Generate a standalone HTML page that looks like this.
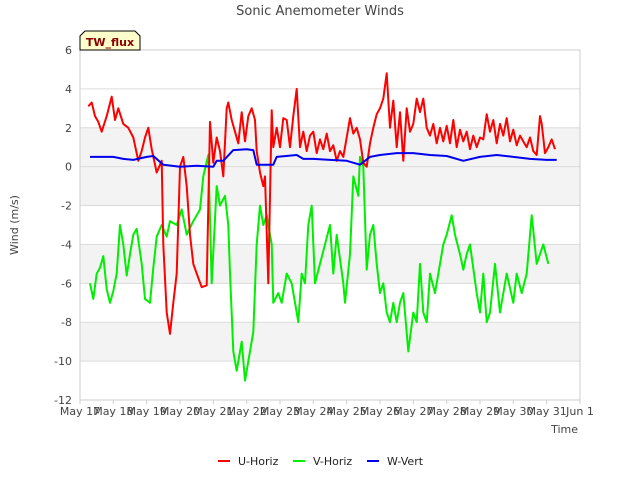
<!DOCTYPE html>
<html><head><meta charset="utf-8"><style>
body{margin:0;background:#fff;}
svg text{font-family:"DejaVu Sans","Liberation Sans",sans-serif;}
</style></head><body>
<svg id="chart" width="640" height="480" viewBox="0 0 640 480" xmlns="http://www.w3.org/2000/svg">
<rect width="640" height="480" fill="#fff"/>
<g id="bands"></g>
<g id="grid"></g>
<rect x="80" y="50" width="500" height="350" fill="none" stroke="#ccc"/>
<g id="yticks"></g>
<g id="xticks"></g>
<g id="series"></g>
<text x="320" y="15" text-anchor="middle" font-size="13" fill="#444">Sonic Anemometer Winds</text>
<text x="18" y="225" text-anchor="middle" font-size="11" fill="#444" transform="rotate(-90 18 225)">Wind (m/s)</text>
<text x="578" y="433" text-anchor="end" font-size="11" fill="#444">Time</text>
<g>
<path d="M80,50 L80,36 L85,31 L135,31 L140,36 L140,50 Z" fill="#ffffcc" stroke="#000" stroke-width="1"/>
<text x="110" y="46" text-anchor="middle" font-size="11" font-weight="bold" fill="#8b0000">TW_flux</text>
</g>
<g>
<g><line x1="218" y1="461" x2="230" y2="461" stroke="#ff0000" stroke-width="2"/><text x="238" y="465" font-size="11" fill="#222">U-Horiz</text></g>
<g><line x1="293" y1="461" x2="305" y2="461" stroke="#00ee00" stroke-width="2"/><text x="313" y="465" font-size="11" fill="#222">V-Horiz</text></g>
<g><line x1="367" y1="461" x2="379" y2="461" stroke="#0000ee" stroke-width="2"/><text x="387" y="465" font-size="11" fill="#222">W-Vert</text></g>
</g>
</svg>
<script>
const xTickLabels=["May 17","May 18","May 19","May 20","May 21","May 22","May 23","May 24","May 25","May 26","May 27","May 28","May 29","May 30","May 31","Jun 1"];
const yTickValues=[-12,-10,-8,-6,-4,-2,0,2,4,6];
const uDays=[0.25,0.35,0.45,0.55,0.65,0.8,0.95,1.05,1.15,1.3,1.45,1.6,1.75,1.85,1.95,2.05,2.15,2.3,2.45,2.5,2.6,2.7,2.8,2.9,3.0,3.1,3.2,3.3,3.4,3.5,3.65,3.8,3.9,4.0,4.1,4.2,4.3,4.4,4.45,4.55,4.65,4.75,4.85,4.95,5.05,5.15,5.25,5.3,5.4,5.5,5.55,5.65,5.75,5.8,5.9,6.0,6.1,6.2,6.3,6.4,6.5,6.6,6.7,6.8,6.9,7.0,7.1,7.2,7.3,7.4,7.5,7.6,7.7,7.8,7.9,8.0,8.1,8.2,8.3,8.4,8.5,8.6,8.7,8.8,8.9,9.0,9.1,9.2,9.3,9.4,9.5,9.6,9.7,9.8,9.9,10.0,10.1,10.2,10.3,10.4,10.5,10.6,10.7,10.8,10.9,11.0,11.1,11.2,11.3,11.4,11.5,11.6,11.7,11.8,11.9,12.0,12.1,12.2,12.3,12.4,12.5,12.6,12.7,12.8,12.9,13.0,13.1,13.2,13.3,13.4,13.5,13.6,13.7,13.8,13.85,13.95,14.05,14.15,14.25,14.3];
const uVals=[3.1,3.3,2.6,2.3,1.8,2.6,3.6,2.4,3.0,2.2,2.0,1.5,0.3,0.8,1.5,2.0,0.9,-0.3,0.3,-4.0,-7.5,-8.6,-7.0,-5.5,0.0,0.5,-1.0,-3.5,-5.0,-5.5,-6.2,-6.1,2.3,0.2,1.5,0.8,-0.5,3.0,3.3,2.4,1.8,1.2,2.8,1.3,2.6,3.0,2.4,0.8,-0.3,-1.0,-0.5,-6.0,2.9,1.0,2.0,1.0,2.5,2.4,1.0,2.6,4.0,1.0,1.8,0.8,1.6,1.8,0.7,1.4,0.9,1.7,0.8,1.1,0.3,0.8,0.5,1.5,2.5,1.7,2.0,1.4,0.2,0.0,1.2,2.0,2.7,3.0,3.5,4.8,2.0,3.4,1.0,2.8,0.3,3.0,1.8,2.2,3.5,2.8,3.5,2.0,1.6,2.2,1.2,2.0,1.3,2.1,1.2,2.4,1.0,1.9,1.3,1.8,0.9,1.6,1.0,1.5,1.4,2.7,1.8,2.4,1.2,2.2,1.6,2.5,1.3,1.9,1.1,1.6,1.3,1.0,1.5,0.8,0.6,2.6,2.2,0.7,1.0,1.4,0.9];
const vDays=[0.3,0.4,0.5,0.6,0.7,0.8,0.9,1.0,1.1,1.2,1.3,1.4,1.5,1.6,1.7,1.85,1.95,2.1,2.2,2.3,2.45,2.6,2.7,2.9,3.05,3.2,3.4,3.5,3.6,3.7,3.85,3.95,4.1,4.2,4.35,4.45,4.5,4.6,4.7,4.85,4.95,5.1,5.2,5.3,5.4,5.5,5.6,5.75,5.8,5.95,6.05,6.2,6.35,6.5,6.55,6.65,6.75,6.85,6.95,7.05,7.2,7.35,7.5,7.6,7.7,7.9,7.95,8.1,8.2,8.35,8.4,8.5,8.6,8.7,8.8,8.9,9.0,9.1,9.2,9.3,9.4,9.5,9.6,9.7,9.85,10.0,10.1,10.2,10.3,10.4,10.5,10.65,10.8,10.9,11.0,11.15,11.25,11.4,11.5,11.6,11.7,11.9,12.0,12.1,12.2,12.3,12.45,12.6,12.8,13.0,13.1,13.25,13.4,13.55,13.7,13.9,14.05,14.15,14.3];
const vVals=[-6.0,-6.8,-5.5,-5.2,-4.6,-6.3,-7.0,-6.4,-5.5,-3.0,-4.0,-5.6,-4.5,-3.5,-3.2,-5.0,-6.8,-7.0,-5.2,-3.6,-3.0,-3.6,-2.8,-3.0,-2.2,-3.5,-2.8,-2.5,-2.2,-0.5,0.6,-6.0,-1.0,-2.0,-1.5,-3.0,-5.5,-9.5,-10.5,-9.0,-11.0,-9.5,-8.5,-4.0,-2.0,-3.0,-2.5,-4.0,-7.0,-6.5,-7.0,-5.5,-6.0,-7.5,-8.0,-5.5,-6.0,-3.0,-2.0,-6.0,-5.0,-4.0,-3.0,-5.5,-3.5,-6.0,-7.0,-4.5,-0.5,-1.5,0.5,0.0,-5.3,-3.5,-3.0,-5.0,-6.5,-6.0,-7.5,-8.0,-7.0,-8.0,-7.0,-6.5,-9.5,-7.5,-8.0,-5.0,-7.5,-8.0,-5.5,-6.5,-5.0,-4.0,-3.5,-2.5,-3.5,-4.5,-5.3,-4.5,-4.0,-6.5,-7.5,-5.5,-8.0,-7.5,-5.0,-7.5,-5.5,-7.0,-5.5,-6.5,-5.5,-2.5,-5.0,-4.0,-5.0];
const wDays=[0.3,0.6,1.0,1.3,1.6,2.0,2.2,2.5,3.0,3.5,4.0,4.1,4.3,4.6,5.0,5.2,5.3,5.8,5.9,6.5,6.7,7.0,7.5,8.0,8.4,8.7,9.0,9.5,10.0,10.5,11.0,11.5,12.0,12.5,13.0,13.5,14.0,14.3];
const wVals=[0.5,0.5,0.5,0.4,0.35,0.5,0.55,0.1,0.0,0.05,0.0,0.3,0.3,0.85,0.9,0.85,0.1,0.1,0.5,0.6,0.4,0.4,0.35,0.3,0.1,0.5,0.6,0.7,0.7,0.6,0.55,0.3,0.5,0.6,0.5,0.4,0.35,0.35];

const NS="http://www.w3.org/2000/svg";
const X0=80,X1=580,Y0=400,Y1=50;
function xs(d){return X0+(X1-X0)*d/15;}
function ys(v){return Y0-(Y0-Y1)*(v+12)/18;}
function mk(t,a,p){const e=document.createElementNS(NS,t);for(const k in a)e.setAttribute(k,a[k]);p.appendChild(e);return e;}
const bands=document.getElementById('bands'),grid=document.getElementById('grid'),yt=document.getElementById('yticks'),xt=document.getElementById('xticks'),ser=document.getElementById('series');
for(let i=0;i<yTickValues.length-1;i++){
  const lo=yTickValues[i],hi=yTickValues[i+1];
  if([2,0,-4,-8].includes(hi)){
    const b=mk('rect',{x:X0,y:ys(hi),width:X1-X0,height:ys(lo)-ys(hi),fill:'#f3f3f3'},bands);
    
    
  }
}
yTickValues.forEach(v=>{
  const l=mk('line',{x1:X0,x2:X1,y1:ys(v),y2:ys(v),stroke:'#dcdcdc'},grid);
  
  
  const t=mk('text',{x:X0-8,y:ys(v)+4,'text-anchor':'end','font-size':'11',fill:'#444'},yt);
  t.textContent=String(v);
  
  
});
xTickLabels.forEach((s,i)=>{
  mk('line',{x1:xs(i),x2:xs(i),y1:Y0,y2:Y0+4,stroke:'#ccc'},xt);
  const t=mk('text',{x:xs(i),y:Y0+15,'text-anchor':'middle','font-size':'11',fill:'#444'},xt);
  t.textContent=s;
  
  
});
function line(ds,vs,c,name){
  const p=mk('polyline',{points:ds.map((d,i)=>xs(d).toFixed(1)+','+ys(vs[i]).toFixed(1)).join(' '),fill:'none',stroke:c,'stroke-width':'2','stroke-linejoin':'round'},ser);
  
  
}
line(vDays,vVals,'#00ee00','v-horiz-line');
line(uDays,uVals,'#ff0000','u-horiz-line');
line(wDays,wVals,'#0000ee','w-vert-line');
</script>
</body></html>
